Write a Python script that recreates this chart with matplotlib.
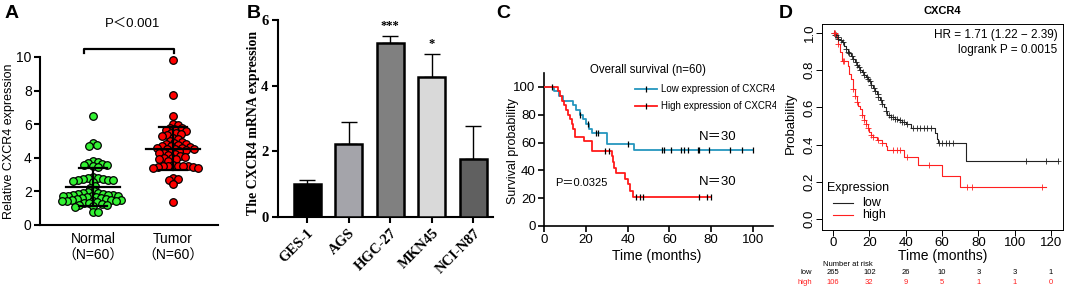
import numpy as np
import matplotlib
matplotlib.use("Agg")
import matplotlib.pyplot as plt
from matplotlib import transforms
from matplotlib.transforms import Bbox, TransformedBbox

SANS = ['Liberation Sans', 'Noto Sans CJK SC', 'DejaVu Sans']
SERIF = ['Liberation Serif', 'DejaVu Serif']
plt.rcParams['font.family'] = SANS

# ---------------- data ----------------
# Panel A
normal_vals = [6.5, 4.9, 4.75, 4.7,
               3.8, 3.75, 3.7, 3.65, 3.6, 3.55, 3.5, 3.45,
               2.85, 2.8, 2.8, 2.75, 2.75, 2.7, 2.7, 2.65, 2.6, 2.55,
               2.3, 2.2, 2.0, 1.95, 1.9, 1.9, 1.85, 1.85, 1.8, 1.8, 1.8, 1.75,
               1.75, 1.7, 1.7, 1.65, 1.65, 1.6, 1.6, 1.55, 1.55, 1.5, 1.5, 1.5,
               1.45, 1.45, 1.4, 1.4, 1.35, 1.3, 1.3, 1.25, 1.2, 1.2, 1.15, 1.1,
               0.8, 0.75]
tumor_vals = [9.8, 7.75, 6.5, 6.0, 5.95, 5.8, 5.75, 5.7, 5.65, 5.6, 5.5, 5.45,
              5.4, 5.35, 5.3, 5.2, 5.1, 5.0, 4.95, 4.9, 4.85, 4.8, 4.75, 4.7,
              4.7, 4.65, 4.6, 4.6, 4.55, 4.5, 4.5, 4.45, 4.4, 4.35, 4.3, 4.3,
              4.2, 4.15, 4.1, 4.05, 4.0, 4.0, 3.95, 3.9, 3.8, 3.55, 3.5, 3.5,
              3.5, 3.5, 3.5, 3.45, 3.45, 3.4, 3.4, 2.8, 2.75, 2.7, 2.45, 1.35]
groupsA = ["Normal\n（N=60）", "Tumor\n（N=60）"]

# Panel B
cell_lines = ["GES-1", "AGS", "HGC-27", "MKN45", "NCI-N87"]
cell_means = [1.0, 2.22, 5.3, 4.25, 1.78]
cell_err = [0.12, 0.68, 0.22, 0.72, 1.0]
cell_colors = ["#000000", "#a4a4aa", "#808080", "#d9d9d9", "#606060"]
cell_stars = ["", "", "***", "*", ""]

# Panel C  (Kaplan-Meier steps: time, survival %)
c_low_t = [0, 5, 7, 9, 14, 15.5, 17, 18.5, 20, 21.5, 23, 30, 43, 100]
c_low_s = [100, 96.7, 93.3, 90, 86.7, 83.3, 80, 76.7, 73.3, 70, 66.7, 58.8, 54.4, 54.4]
c_low_cens = [4, 17, 21, 25, 26, 40, 56.5, 57.5, 61, 65.7, 67, 69, 73.6, 74.4, 79, 89, 95, 100]
c_high_t = [0, 6.5, 7.5, 8.5, 9.5, 10.5, 11.5, 12.5, 13.3, 14, 15, 19, 23, 32.5, 33, 33.6, 34.3,
            39, 40, 41, 42.5, 80]
c_high_s = [100, 96.7, 93.3, 90, 86.7, 83.3, 80, 76.7, 73.3, 70, 64.2, 61, 54, 50, 46, 42, 37.8,
            34, 30, 25.5, 21, 21]
c_high_cens = [29, 31, 44, 46, 47.5, 74, 78, 80]

# Panel D
d_low_t = [0, 1, 2, 3, 4, 5, 6, 7, 8, 9, 10, 11, 12, 13, 14, 15, 16, 17, 18, 19, 20, 21, 22,
           23, 24, 25, 26, 27, 28, 29, 30, 32, 34, 36, 38, 40, 43, 56, 57, 58, 73, 124]
d_low_s = [1.0, 0.99, 0.98, 0.97, 0.96, 0.95, 0.93, 0.915, 0.90, 0.89, 0.875, 0.86, 0.845,
           0.83, 0.815, 0.80, 0.79, 0.775, 0.765, 0.75, 0.74, 0.72, 0.705, 0.69, 0.67, 0.655,
           0.64, 0.62, 0.60, 0.58, 0.56, 0.55, 0.54, 0.53, 0.52, 0.51, 0.49, 0.46, 0.43, 0.41,
           0.31, 0.31]
d_low_cens = [0.5, 1, 1.5, 2.5, 3, 4.5, 5.5, 7, 8.5, 9, 10.5, 11, 12.5, 13, 14.5, 15, 16.5, 17,
              18.5, 19, 20.5, 21, 22.5, 23, 24.5, 25, 26.5, 27, 29, 31, 32, 33, 34, 35, 37, 38,
              39, 41, 44, 46, 48, 50, 52, 54, 58.5, 60, 62, 64, 66, 106, 117, 124]
d_high_t = [0, 2, 3, 4, 5, 8, 9, 10, 11, 12, 13, 14, 15, 16, 17, 18, 19, 20, 21, 22, 24, 27,
            29, 30, 39, 47, 60, 70, 117]
d_high_s = [1.0, 0.97, 0.94, 0.90, 0.85, 0.82, 0.78, 0.75, 0.70, 0.66, 0.63, 0.61, 0.59, 0.56,
            0.53, 0.51, 0.49, 0.47, 0.45, 0.44, 0.425, 0.41, 0.39, 0.37, 0.335, 0.29, 0.23,
            0.17, 0.17]
d_high_cens = [0.5, 1, 3, 5.5, 6, 11, 12, 13, 16, 17, 18, 19, 21, 22, 25, 27, 33, 35, 37, 41,
               53, 74, 76.5, 115]
risk_times = [0, 20, 40, 60, 80, 100, 120]
risk_low = [265, 102, 26, 10, 3, 3, 1]
risk_high = [106, 32, 9, 5, 1, 1, 0]

# ---------------- figure ----------------
W, H = 1065, 288
fig = plt.figure(figsize=(W / 100, H / 100), dpi=100)


def ax_px(l, r, t, b):
    return fig.add_axes([l / W, 1 - b / H, (r - l) / W, (b - t) / H])


def step_at(ts, ss, x):
    idx = np.searchsorted(ts, x, side='right') - 1
    return np.asarray(ss)[np.clip(idx, 0, len(ss) - 1)]


# ---------- Panel A ----------
axA = ax_px(40, 218, 57, 225)
axA.set_xlim(0.34, 2.56)
axA.set_ylim(0, 10)
ypx, xpx, diam = 16.8, 80.0, 4.6


def swarm(vals, center):
    vals = np.asarray(vals, float)
    placed = []
    xs = np.empty(len(vals))
    for i in np.argsort(vals)[::-1]:
        y = vals[i] * ypx
        best = 0.0
        for k in range(0, 400):
            found = False
            for sgn in (1, -1):
                off = sgn * k * 0.5
                if all((off - px) ** 2 + (y - py) ** 2 >= diam ** 2 for px, py in placed):
                    best = off
                    found = True
                    break
            if found:
                break
        placed.append((best, y))
        xs[i] = center + best / xpx
    return xs


for pos, vals, col in [(1, normal_vals, '#33f233'), (2, tumor_vals, '#ff0000')]:
    xs = swarm(vals, pos)
    axA.scatter(xs, vals, s=30, c=col, edgecolors='black', linewidths=0.9, zorder=3,
                clip_on=False)
    m, sd = np.mean(vals), np.std(vals, ddof=1)
    axA.plot([pos - 0.34, pos + 0.34], [m, m], color='black', lw=1.6, zorder=4)
    axA.plot([pos - 0.17, pos + 0.17], [m + sd, m + sd], color='black', lw=1.6, zorder=4)
    axA.plot([pos - 0.17, pos + 0.17], [m - sd, m - sd], color='black', lw=1.6, zorder=4)
    axA.plot([pos, pos], [m - sd, m + sd], color='black', lw=1.6, zorder=4)

axA.set_xticks([1, 2])
axA.set_xticklabels(groupsA, fontsize=10, family=SANS, linespacing=1.25)
axA.tick_params(axis='x', length=0, pad=5)
axA.set_yticks([0, 2, 4, 6, 8, 10])
axA.tick_params(axis='y', labelsize=10, length=4, width=1.5, pad=2)
for s in ['top', 'right']:
    axA.spines[s].set_visible(False)
for s in ['left', 'bottom']:
    axA.spines[s].set_linewidth(1.5)
axA.set_ylabel("Relative CXCR4 expression", fontsize=9)
axA.yaxis.set_label_coords(-0.14, 0.5)
# significance bracket
axA.plot([0.89, 0.89, 2.01, 2.01], [10.25, 10.5, 10.5, 10.25], color='black', lw=1.6,
         clip_on=False)
axA.text(1.5, 11.95, "P＜0.001", ha='center', va='center', fontsize=9.5, family=SANS)

# ---------- Panel B ----------
axB = ax_px(278, 493, 20, 217)
xb = np.arange(len(cell_lines))
axB.bar(xb, cell_means, width=0.65, color=cell_colors, edgecolor='black', linewidth=1.8,
        zorder=3)
axB.errorbar(xb, cell_means, yerr=[np.zeros(len(xb)), cell_err], fmt='none', ecolor='black',
             elinewidth=1.0, capsize=6, capthick=1.0, zorder=2)
for x, m, e, st in zip(xb, cell_means, cell_err, cell_stars):
    if st:
        axB.text(x, m + e + 0.3, st, ha='center', va='center', fontsize=9, family=SERIF,
                 fontweight='bold')
axB.set_xlim(-0.70, 4.47)
axB.set_ylim(0, 6)
axB.set_yticks([0, 2, 4, 6])
axB.set_xticks(xb)
axB.set_xticklabels(cell_lines, rotation=45, ha='right', rotation_mode='anchor',
                    family=SERIF, fontweight='bold', fontsize=10.5)
for lab in axB.get_yticklabels():
    lab.set_family(SERIF)
    lab.set_fontweight('bold')
    lab.set_fontsize(10.5)
axB.tick_params(axis='both', length=4, width=1.5, pad=3)
for s in ['top', 'right']:
    axB.spines[s].set_visible(False)
for s in ['left', 'bottom']:
    axB.spines[s].set_linewidth(1.5)
axB.set_ylabel("The CXCR4 mRNA expression", family=SERIF, fontweight='bold', fontsize=10)
axB.yaxis.set_label_coords(-0.084, 0.48)

# ---------- Panel C ----------
axC = ax_px(544, 773, 73, 226)
blue, red = '#2596be', '#ff1a1a'
axC.step(c_low_t, c_low_s, where='post', color=blue, lw=1.3, zorder=3)
axC.step(c_high_t, c_high_s, where='post', color=red, lw=1.3, zorder=3)
axC.plot(c_low_cens, step_at(c_low_t, c_low_s, c_low_cens), ls='none', marker='|',
         color='black', ms=4, mew=0.9, zorder=4)
axC.plot(c_high_cens, step_at(c_high_t, c_high_s, c_high_cens), ls='none', marker='|',
         color='black', ms=4, mew=0.9, zorder=4)
axC.set_xlim(0, 109.6)
axC.set_ylim(0, 110)
axC.set_xticks([0, 20, 40, 60, 80, 100])
axC.set_yticks([0, 20, 40, 60, 80, 100])
axC.tick_params(labelsize=9.5, length=4, width=1.2, pad=2)
for s in ['top', 'right']:
    axC.spines[s].set_visible(False)
for s in ['left', 'bottom']:
    axC.spines[s].set_linewidth(1.2)
axC.set_xlabel("Time (months)", fontsize=10)
axC.xaxis.set_label_coords(0.49, -0.15)
axC.set_ylabel("Survival probability", fontsize=9)
axC.yaxis.set_label_coords(-0.11, 0.49)
axC.text(0.454, 1.02, "Overall survival (n=60)", transform=axC.transAxes, ha='center',
         va='center', fontsize=8.3)
clipbox = TransformedBbox(Bbox([[0, 0], [776 / W, 1]]), fig.transFigure)
for yv, col, lab in [(98.6, blue, "Low expression of CXCR4"),
                     (86.3, red, "High expression of CXCR4")]:
    axC.plot([43.5, 54], [yv, yv], color=col, lw=1.3, clip_on=False)
    axC.plot([48.8], [yv], marker='|', color='black', ms=4, mew=0.9, clip_on=False)
    t = axC.text(55.8, yv, lab, ha='left', va='center', fontsize=7, clip_on=True)
    t.set_clip_box(clipbox)
axC.text(83, 64, "N＝30", ha='center', va='center', fontsize=9.5)
axC.text(83, 31.5, "N＝30", ha='center', va='center', fontsize=9.5)
axC.text(18, 31, "P＝0.0325", ha='center', va='center', fontsize=8)

# ---------- Panel D ----------
axD = ax_px(822, 1063, 24, 230)
axD.step(d_low_t, d_low_s, where='post', color='#222222', lw=0.8, zorder=3)
axD.step(d_high_t, d_high_s, where='post', color='#ff2020', lw=0.8, zorder=3)
axD.plot(d_low_cens, step_at(d_low_t, d_low_s, d_low_cens), ls='none', marker='+',
         color='#222222', ms=4, mew=0.6, zorder=4)
axD.plot(d_high_cens, step_at(d_high_t, d_high_s, d_high_cens), ls='none', marker='+',
         color='#ff2020', ms=4, mew=0.6, zorder=4)
axD.set_xlim(-6.05, 126.6)
axD.set_ylim(-0.059, 1.048)
axD.set_xticks(risk_times)
axD.set_yticks([0.0, 0.2, 0.4, 0.6, 0.8, 1.0])
axD.set_yticklabels(["0.0", "0.2", "0.4", "0.6", "0.8", "1.0"], rotation=90, va='center')
axD.tick_params(labelsize=9.5, length=4, width=0.7)
axD.tick_params(axis='y', pad=0.5)
axD.tick_params(axis='x', pad=1)
for s in axD.spines.values():
    s.set_linewidth(0.7)
axD.set_xlabel("Time (months)", fontsize=10)
axD.xaxis.set_label_coords(0.50, -0.092)
axD.set_ylabel("Probability", fontsize=9.5)
axD.yaxis.set_label_coords(-0.104, 0.52)
axD.text(0.5, 1.065, "CXCR4", transform=axD.transAxes, ha='center', va='center',
         fontsize=8, fontweight='bold')
axD.text(0.977, 0.947, "HR = 1.71 (1.22 − 2.39)", transform=axD.transAxes, ha='right',
         va='center', fontsize=8.5)
axD.text(0.977, 0.874, "logrank P = 0.0015", transform=axD.transAxes, ha='right',
         va='center', fontsize=8.5)
axD.text(-3.5, 0.167, "Expression", ha='left', va='center', fontsize=9)
axD.plot([0, 11], [0.086, 0.086], color='#222222', lw=0.8)
axD.plot([0, 11], [0.0215, 0.0215], color='#ff2020', lw=0.8)
axD.text(16, 0.086, "low", ha='left', va='center', fontsize=9)
axD.text(16, 0.0215, "high", ha='left', va='center', fontsize=9)
btr = transforms.blended_transform_factory(axD.transData, fig.transFigure)
fig.text(823 / W, 1 - 264 / H, "Number at risk", ha='left', va='center', fontsize=5.5)
for x, a, b in zip(risk_times, risk_low, risk_high):
    fig.text(x, 1 - 273 / H, str(a), transform=btr, ha='center', va='center', fontsize=5.5)
    fig.text(x, 1 - 282 / H, str(b), transform=btr, ha='center', va='center', fontsize=5.5,
             color='#ff2020')
fig.text(812 / W, 1 - 273 / H, "low", ha='right', va='center', fontsize=5.5)
fig.text(812 / W, 1 - 282 / H, "high", ha='right', va='center', fontsize=5.5, color='#ff2020')

# ---------- panel letters ----------
for x, lab in [(5, "A"), (247, "B"), (496, "C"), (779, "D")]:
    fig.text(x / W, 1 - 14 / H, lab, ha='left', va='center', fontsize=14, fontweight='bold')

fig.savefig("out.png", dpi=100)
